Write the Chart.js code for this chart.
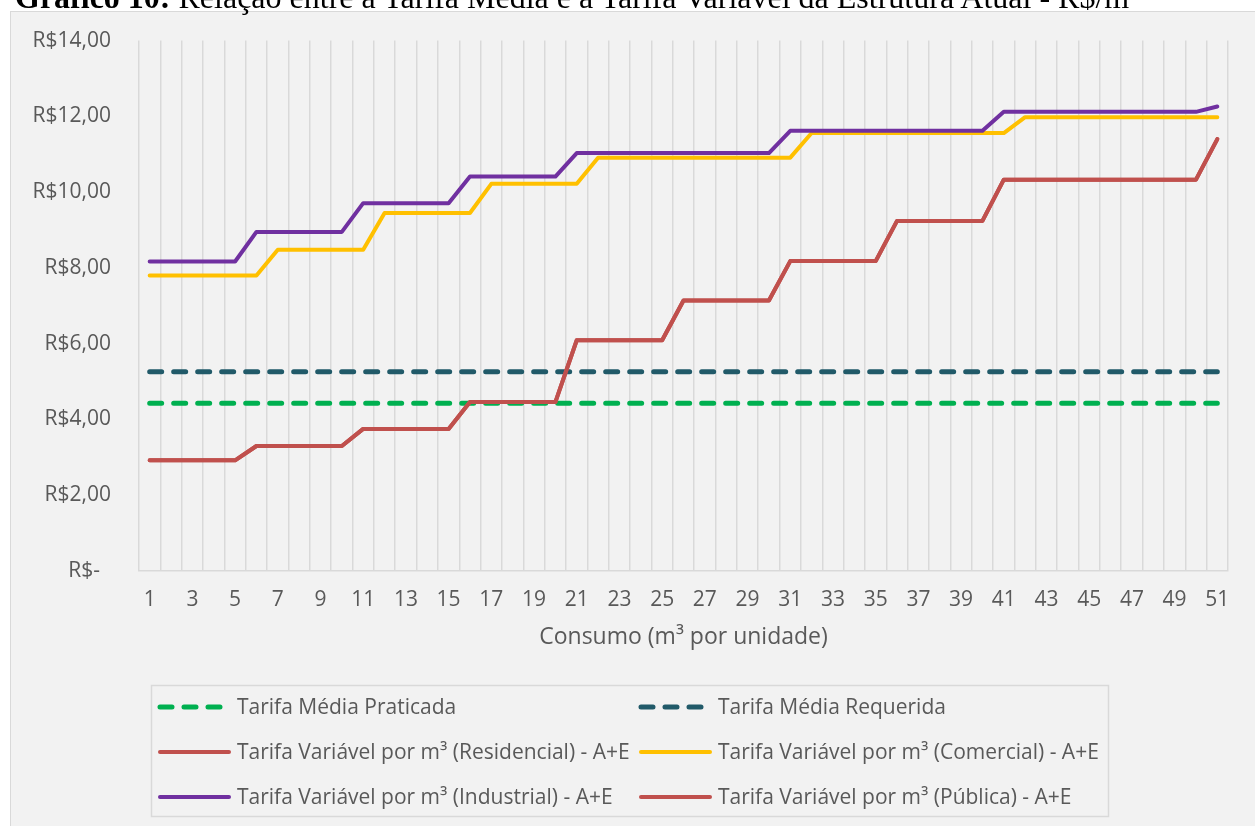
<!DOCTYPE html>
<html>
<head>
<meta charset="utf-8">
<script src="https://cdn.jsdelivr.net/npm/chart.js@4.4.1/dist/chart.umd.min.js"></script>
<style>
  html, body { margin: 0; padding: 0; background: #ffffff; overflow: hidden; width: 1255px; height: 826px; }
  #frame { position: absolute; left: 10px; top: 11px; width: 1300px; height: 900px; background: #f2f2f2; border: 1px solid #d9d9d9; box-sizing: border-box; }
  #title { position: absolute; left: 15px; top: -19px; font-family: "Liberation Serif", "Times New Roman", serif; font-size: 32px; line-height: 32px; color: #000; white-space: nowrap; z-index: 2; }
  #title b { font-weight: bold; }
  #c { position: absolute; left: 0; top: 0; z-index: 1; }
</style>
</head>
<body>
<div id="frame"></div>
<div id="title"><b>Gráfico 10:</b> Relação entre a Tarifa Média e a Tarifa Variável da Estrutura Atual - R$/m³</div>
<canvas id="c" width="1255" height="826"></canvas>
<script>
// ---- data ----
const categories = [1,2,3,4,5,6,7,8,9,10,11,12,13,14,15,16,17,18,19,20,21,22,23,24,25,26,27,28,29,30,31,32,33,34,35,36,37,38,39,40,41,42,43,44,45,46,47,48,49,50,51];

const tarifaMediaPraticada = [4.43,4.43,4.43,4.43,4.43,4.43,4.43,4.43,4.43,4.43,4.43,4.43,4.43,4.43,4.43,4.43,4.43,4.43,4.43,4.43,4.43,4.43,4.43,4.43,4.43,4.43,4.43,4.43,4.43,4.43,4.43,4.43,4.43,4.43,4.43,4.43,4.43,4.43,4.43,4.43,4.43,4.43,4.43,4.43,4.43,4.43,4.43,4.43,4.43,4.43,4.43];

const tarifaMediaRequerida = [5.26,5.26,5.26,5.26,5.26,5.26,5.26,5.26,5.26,5.26,5.26,5.26,5.26,5.26,5.26,5.26,5.26,5.26,5.26,5.26,5.26,5.26,5.26,5.26,5.26,5.26,5.26,5.26,5.26,5.26,5.26,5.26,5.26,5.26,5.26,5.26,5.26,5.26,5.26,5.26,5.26,5.26,5.26,5.26,5.26,5.26,5.26,5.26,5.26,5.26,5.26];

const tarifaResidencial = [2.92,2.92,2.92,2.92,2.92, 3.30,3.30,3.30,3.30,3.30, 3.75,3.75,3.75,3.75,3.75, 4.46,4.46,4.46,4.46,4.46, 6.09,6.09,6.09,6.09,6.09, 7.14,7.14,7.14,7.14,7.14, 8.18,8.18,8.18,8.18,8.18, 9.24,9.24,9.24,9.24,9.24, 10.33,10.33,10.33,10.33,10.33,10.33,10.33,10.33,10.33,10.33, 11.40];

const tarifaComercial = [7.80,7.80,7.80,7.80,7.80,7.80, 8.48,8.48,8.48,8.48,8.48, 9.45,9.45,9.45,9.45,9.45, 10.22,10.22,10.22,10.22,10.22, 10.91,10.91,10.91,10.91,10.91,10.91,10.91,10.91,10.91,10.91, 11.56,11.56,11.56,11.56,11.56,11.56,11.56,11.56,11.56,11.56, 11.98,11.98,11.98,11.98,11.98,11.98,11.98,11.98,11.98,11.98];

const tarifaIndustrial = [8.17,8.17,8.17,8.17,8.17, 8.95,8.95,8.95,8.95,8.95, 9.71,9.71,9.71,9.71,9.71, 10.41,10.41,10.41,10.41,10.41, 11.03,11.03,11.03,11.03,11.03,11.03,11.03,11.03,11.03,11.03, 11.62,11.62,11.62,11.62,11.62,11.62,11.62,11.62,11.62,11.62, 12.12,12.12,12.12,12.12,12.12,12.12,12.12,12.12,12.12,12.12, 12.26];

const tarifaPublica = [2.92,2.92,2.92,2.92,2.92, 3.30,3.30,3.30,3.30,3.30, 3.75,3.75,3.75,3.75,3.75, 4.46,4.46,4.46,4.46,4.46, 6.09,6.09,6.09,6.09,6.09, 7.14,7.14,7.14,7.14,7.14, 8.18,8.18,8.18,8.18,8.18, 9.24,9.24,9.24,9.24,9.24, 10.33,10.33,10.33,10.33,10.33,10.33,10.33,10.33,10.33,10.33, 11.40];

const seriesNames = [
  'Tarifa Média Praticada',
  'Tarifa Média Requerida',
  'Tarifa Variável por m³ (Residencial) - A+E',
  'Tarifa Variável por m³ (Comercial) - A+E',
  'Tarifa Variável por m³ (Industrial) - A+E',
  'Tarifa Variável por m³ (Pública) - A+E'
];
const yTickValues = [0, 2, 4, 6, 8, 10, 12, 14];
const yTickLabels = ['R$-  ', 'R$2,00', 'R$4,00', 'R$6,00', 'R$8,00', 'R$10,00', 'R$12,00', 'R$14,00'];
const xAxisTitle = 'Consumo (m³ por unidade)';

// ---- styles ----
const FONT = '"Open Sans", "Noto Sans", sans-serif';
const TXT = '#595959';
const colors = ['#00b050', '#215a69', '#c0504d', '#ffc000', '#7030a0', '#c0504d'];
const dashed = [true, true, false, false, false, false];
const seriesData = [tarifaMediaPraticada, tarifaMediaRequerida, tarifaResidencial, tarifaComercial, tarifaIndustrial, tarifaPublica];

const datasets = seriesData.map((d, i) => ({
  label: seriesNames[i],
  data: d,
  borderColor: colors[i],
  backgroundColor: colors[i],
  borderWidth: dashed[i] ? 5 : 4,
  borderDash: dashed[i] ? [12, 12] : [],
  borderCapStyle: 'round',
  borderJoinStyle: 'round',
  pointRadius: 0,
  pointHoverRadius: 0,
  tension: 0,
  fill: false,
  order: seriesData.length - i
}));

const legendPlugin = {
  id: 'excelLegend',
  afterDraw(chart) {
    const ctx = chart.ctx;
    ctx.save();
    ctx.strokeStyle = '#d9d9d9';
    ctx.lineWidth = 1.5;
    ctx.strokeRect(151.5, 685.5, 957, 131);
    const rowsY = [707, 752, 797];
    const colLine = [[160, 229], [641, 710]];
    const colText = [237, 718];
    ctx.font = '21px ' + FONT;
    ctx.textBaseline = 'middle';
    ctx.textAlign = 'left';
    chart.data.datasets.forEach((ds, i) => {
      const col = i % 2, row = Math.floor(i / 2);
      const y = rowsY[row];
      ctx.beginPath();
      ctx.strokeStyle = ds.borderColor;
      ctx.lineWidth = ds.borderWidth;
      ctx.lineCap = 'round';
      ctx.setLineDash(ds.borderDash || []);
      ctx.moveTo(colLine[col][0], y);
      ctx.lineTo(colLine[col][1], y);
      ctx.stroke();
      ctx.setLineDash([]);
      ctx.fillStyle = TXT;
      ctx.fillText(ds.label, colText[col], y + 1);
    });
    ctx.restore();
  }
};

new Chart(document.getElementById('c'), {
  type: 'line',
  data: { labels: categories, datasets: datasets },
  plugins: [legendPlugin],
  options: {
    responsive: false,
    animation: false,
    devicePixelRatio: 1,
    layout: { padding: { left: 0, top: 40, right: 27, bottom: 175 } },
    plugins: { legend: { display: false }, tooltip: { enabled: false }, title: { display: false } },
    scales: {
      x: {
        offset: true,
        grid: { offset: true, color: '#d9d9d9', lineWidth: 1.5, drawTicks: false },
        border: { display: true, color: '#d9d9d9', width: 1.5 },
        ticks: {
          autoSkip: false, maxRotation: 0, minRotation: 0, padding: 16,
          color: TXT, font: { family: FONT, size: 21 },
          callback: function (v, idx) { return idx % 2 === 0 ? String(categories[idx]) : ''; }
        },
        title: { display: true, text: xAxisTitle, color: TXT, font: { family: FONT, size: 23 }, padding: { top: 0, bottom: 0 } },
        afterFit(scale) { scale.height = 80; }
      },
      y: {
        min: 0, max: 14,
        grid: { display: false, drawTicks: false },
        border: { display: false },
        ticks: {
          stepSize: 2, padding: 28, color: TXT, font: { family: FONT, size: 21 },
          callback: function (v) { const k = yTickValues.indexOf(v); return k >= 0 ? yTickLabels[k] : ''; }
        },
        afterFit(scale) { scale.width = 139; }
      }
    }
  }
});
</script>
</body>
</html>
